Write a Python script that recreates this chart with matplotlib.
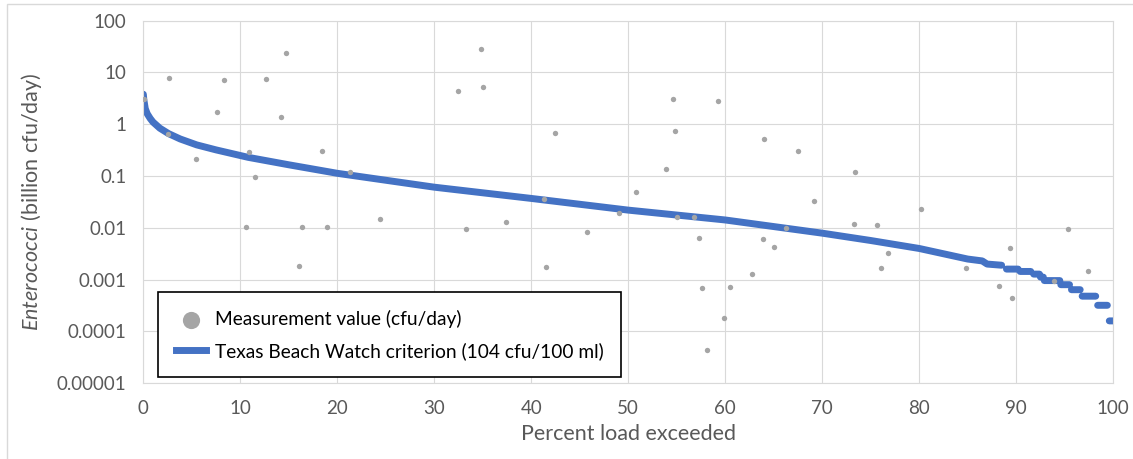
import numpy as np
import matplotlib
matplotlib.use('Agg')
import matplotlib.pyplot as plt
from matplotlib.patches import Rectangle

# Measured loads (percent exceeded, billion cfu/day)
meas_pct = [0.07, 2.5, 2.6, 5.4, 7.6, 8.35, 10.6, 10.9, 11.55, 12.7, 14.2, 14.7,
            16.1, 16.4, 18.4, 18.9, 21.3, 24.4, 32.4, 33.3, 34.8, 35.0, 37.4,
            41.3, 41.5, 42.4, 45.7, 49.0, 50.8, 53.9, 54.6, 54.8, 55.0, 56.8,
            57.3, 57.6, 58.1, 59.3, 59.9, 60.5, 62.8, 63.9, 64.0, 65.0, 66.3,
            67.5, 69.2, 73.3, 73.4, 75.7, 76.1, 76.8, 80.2, 84.8, 88.2, 89.4,
            89.6, 93.9, 95.3, 97.4]
meas_load = [3.1, 0.64, 7.8, 0.214, 1.75, 7.2, 0.0102, 0.296, 0.098, 7.4, 1.36, 23.5,
             0.00182, 0.0103, 0.31, 0.0104, 0.118, 0.0151, 4.45, 0.0097, 28.4, 5.3, 0.013,
             0.0356, 0.00176, 0.69, 0.0085, 0.0196, 0.0486, 0.137, 3.04, 0.74, 0.0164, 0.0163,
             0.0065, 0.0007, 0.0000434, 2.78, 0.00018, 0.00071, 0.0013, 0.006, 0.53, 0.0043, 0.0100,
             0.305, 0.033, 0.012, 0.118, 0.0114, 0.00168, 0.0032, 0.023, 0.0017, 0.00077, 0.0041,
             0.00044, 0.00096, 0.0097, 0.0015]

# Criterion load duration curve (smooth part)
crit_pct = [0, 0.05, 0.2, 0.4, 0.7, 1.0, 1.7, 2.6, 3.8, 5.5, 7.5, 10.8, 15, 20, 30, 40,
            50, 60, 70, 75, 80, 85, 86.5, 87, 88.5]
crit_load = [3.8, 3.0, 2.0, 1.6, 1.3, 1.1, 0.84, 0.66, 0.52, 0.40, 0.32, 0.23, 0.165,
             0.113, 0.061, 0.037, 0.022, 0.0142, 0.0079, 0.0057, 0.0040, 0.0025, 0.0023,
             0.0020, 0.0019]

# stepped tail of the curve: start %, end %, load
step_start = [89.0, 90.4, 91.8, 92.5, 92.9, 94.6, 95.7, 96.8, 98.4, 99.6]
step_end = [90.2, 91.5, 92.4, 92.8, 94.5, 95.5, 96.6, 98.2, 99.4, 100.0]
step_load = [0.0016, 0.00144, 0.00128, 0.00112, 0.00096, 0.0008, 0.00064, 0.00048,
             0.00032, 0.00016]

plt.rcParams['font.family'] = ['Lato', 'DejaVu Sans']
plt.rcParams['mathtext.fontset'] = 'custom'
plt.rcParams['mathtext.rm'] = 'Lato'
plt.rcParams['mathtext.it'] = 'Lato:italic'

fig = plt.figure(figsize=(11.33, 4.59), dpi=100)
ax = fig.add_axes([0.1265, 0.165, 0.856, 0.79])

# chart border
fig.patches.append(Rectangle((6.5 / 1133, -0.05), 1.2, 1 - 4.3 / 459 + 0.05,
                             transform=fig.transFigure, fill=False,
                             edgecolor='#D9D9D9', linewidth=1))

blue = '#4472C4'
xs, ys = list(crit_pct), list(crit_load)
for s, e, v in zip(step_start, step_end, step_load):
    xs += [np.nan, s, e]
    ys += [np.nan, v, v]
ax.plot(xs, ys, color=blue, linewidth=5, solid_capstyle='round',
        solid_joinstyle='round', zorder=2)
ax.plot([], [], color=blue, linewidth=5,
        label='Texas Beach Watch criterion (104 cfu/100 ml)')

ax.scatter(meas_pct, meas_load, s=15, color='#A5A5A5', zorder=3, linewidths=0,
           label='Measurement value (cfu/day)')

ax.set_yscale('log')
ax.set_xlim(0, 100)
ax.set_ylim(1e-5, 100)
ax.set_xticks(range(0, 101, 10))
yt = [1e-5, 1e-4, 1e-3, 1e-2, 1e-1, 1, 10, 100]
ax.set_yticks(yt)
ax.set_yticklabels(['0.00001', '0.0001', '0.001', '0.01', '0.1', '1', '10', '100'])
ax.minorticks_off()
ax.grid(True, color='#D9D9D9', linewidth=0.8)
ax.set_axisbelow(True)
for sp in ax.spines.values():
    sp.set_color('#D9D9D9')
    sp.set_linewidth(0.8)
ax.tick_params(length=0, labelsize=13.5, labelcolor='#595959')
ax.tick_params(axis='x', pad=12)
ax.tick_params(axis='y', pad=12)

ax.set_xlabel('Percent load exceeded', fontsize=15.5, color='#595959', labelpad=5)
ax.set_ylabel(r'$\it{Enterococci}$ (billion cfu/day)', fontsize=15.5,
              color='#595959', labelpad=9)

handles, labels = ax.get_legend_handles_labels()
leg = ax.legend(handles[::-1], labels[::-1], loc='lower left',
                bbox_to_anchor=(0.0155, 0.0165), borderaxespad=0, fontsize=13.8,
                fancybox=False, edgecolor='black', framealpha=1,
                handlelength=1.6, labelspacing=0.75, borderpad=0.9,
                handletextpad=0.45, markerscale=3.2)
leg.get_frame().set_linewidth(1.2)

fig.savefig('out.png', dpi=100)
